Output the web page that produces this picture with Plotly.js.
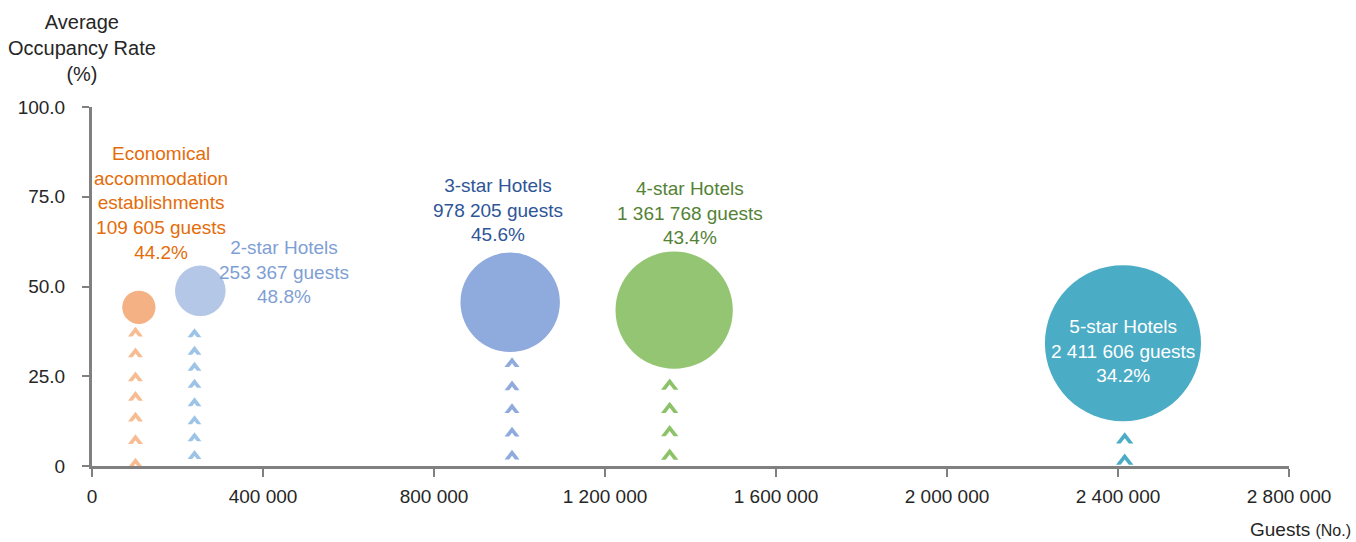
<!DOCTYPE html>
<html>
<head>
<meta charset="utf-8">
<script src="https://cdn.plot.ly/plotly-3.0.1.min.js"></script>
<style>html,body{margin:0;padding:0;background:#fff;}#chart{width:1356px;height:542px;}</style>
</head>
<body>
<div id="chart"></div>
<script>
// ---- data ----
const categories = ["Economical<br>accommodation<br>establishments", "2-star Hotels", "3-star Hotels", "4-star Hotels", "5-star Hotels"];
const guests = [109605, 253367, 978205, 1361768, 2411606];
const occupancy = [44.2, 48.8, 45.6, 43.4, 34.2];
const bubbleColors = ["#F4B183", "#B4C7E7", "#8FAADC", "#93C572", "#4BACC6"];
const labelColors = ["#E46C0A", "#7F9FD4", "#2F5597", "#548235", "#FFFFFF"];
const chevronColors = ["#F7BC92", "#9DC3E6", "#8FAADC", "#8CC268", "#4BACC6"];
// chevron decoration positions
const chevronX = [101700, 239800, 982500, 1351300, 2415700];
const chevronY = [
  [37.0, 31.2, 24.5, 19.1, 13.3, 7.0, 0.5],
  [36.7, 31.8, 27.4, 22.6, 17.5, 12.5, 7.7, 2.8],
  [28.5, 22.0, 15.7, 9.1, 2.7],
  [22.3, 15.8, 9.3, 2.8],
  [7.3, 1.4]
];
const chevronSize = [13, 12, 13, 15, 15];
const xTickVals = [0, 400000, 800000, 1200000, 1600000, 2000000, 2400000, 2800000];
const xTickText = ["0", "400 000", "800 000", "1 200 000", "1 600 000", "2 000 000", "2 400 000", "2 800 000"];
const yTickVals = [0, 25, 50, 75, 100];
const yTickText = ["0", "25.0", "50.0", "75.0", "100.0"];
const labelShift = [[22, 104], [84, 19], [-12, 92], [16, 97], [0, -8]];

function fmt(n) { return String(n).replace(/\B(?=(\d{3})+(?!\d))/g, " "); }

const FONT = "Liberation Sans, Arial, sans-serif";
const traces = [];
// chevrons (colored)
for (let i = 0; i < guests.length; i++) {
  traces.push({
    type: "scatter", mode: "markers", xaxis: "x", yaxis: "y",
    x: chevronY[i].map(() => chevronX[i]), y: chevronY[i],
    marker: { symbol: "triangle-up", size: chevronSize[i], color: chevronColors[i], line: { width: 0 } },
    hoverinfo: "skip", showlegend: false
  });
}
// bubbles
traces.push({
  type: "scatter", mode: "markers", xaxis: "x", yaxis: "y",
  x: guests, y: occupancy,
  marker: { size: guests, sizemode: "area", sizeref: 198, color: bubbleColors, opacity: 1, line: { width: 0 } },
  showlegend: false, hoverinfo: "x+y"
});
// white cut-outs making the chevrons (same points, drawn on a shifted overlay axis)
for (let i = 0; i < guests.length; i++) {
  traces.push({
    type: "scatter", mode: "markers", xaxis: "x", yaxis: "y2",
    x: chevronY[i].map(() => chevronX[i]), y: chevronY[i],
    marker: { symbol: "triangle-up", size: chevronSize[i], color: "#FFFFFF", line: { width: 0 } },
    hoverinfo: "skip", showlegend: false
  });
}

const annotations = guests.map((g, i) => ({
  x: g, y: occupancy[i], xref: "x", yref: "y",
  xshift: labelShift[i][0], yshift: labelShift[i][1],
  text: categories[i] + "<br>" + fmt(g) + " guests<br>" + occupancy[i].toFixed(1) + "%",
  showarrow: false, align: "center",
  font: { family: FONT, size: 19, color: labelColors[i] }
}));
annotations.push({
  xref: "paper", yref: "paper", x: -0.008, y: 1.0, yshift: 20,
  xanchor: "center", yanchor: "bottom",
  text: "Average<br>Occupancy Rate<br>(%)", showarrow: false, align: "center",
  font: { family: FONT, size: 20, color: "#262626" }
});
annotations.push({
  xref: "paper", yref: "paper", x: 1, y: 0, xshift: 64, yshift: -76,
  xanchor: "right", yanchor: "bottom",
  text: "Guests <span style='font-size:16px'>(No.)</span>", showarrow: false,
  font: { family: FONT, size: 19, color: "#262626" }
});

const layout = {
  width: 1356, height: 542,
  margin: { l: 92, r: 67, t: 107, b: 76 },
  paper_bgcolor: "#FFFFFF", plot_bgcolor: "#FFFFFF",
  font: { family: FONT, size: 19, color: "#262626" },
  showlegend: false,
  xaxis: {
    range: [0, 2800000], tickmode: "array", tickvals: xTickVals, ticktext: xTickText,
    showgrid: false, zeroline: false, showline: true, linecolor: "#808080", linewidth: 3,
    ticks: "outside", ticklen: 8, tickwidth: 2, tickcolor: "#808080",
    ticklabelstandoff: 3, tickfont: { family: FONT, size: 19, color: "#262626" }
  },
  yaxis: {
    range: [0, 100], tickmode: "array", tickvals: yTickVals, ticktext: yTickText,
    showgrid: false, zeroline: false, showline: true, linecolor: "#808080", linewidth: 3,
    ticks: "outside", ticklen: 7, tickwidth: 2, tickcolor: "#808080",
    ticklabelstandoff: 13, tickfont: { family: FONT, size: 19, color: "#262626" }
  },
  yaxis2: {
    overlaying: "y", range: [1.67, 101.67], visible: false, showgrid: false, zeroline: false
  },
  annotations: annotations
};

Plotly.newPlot("chart", traces, layout, { displayModeBar: false, staticPlot: true });
</script>
</body>
</html>
